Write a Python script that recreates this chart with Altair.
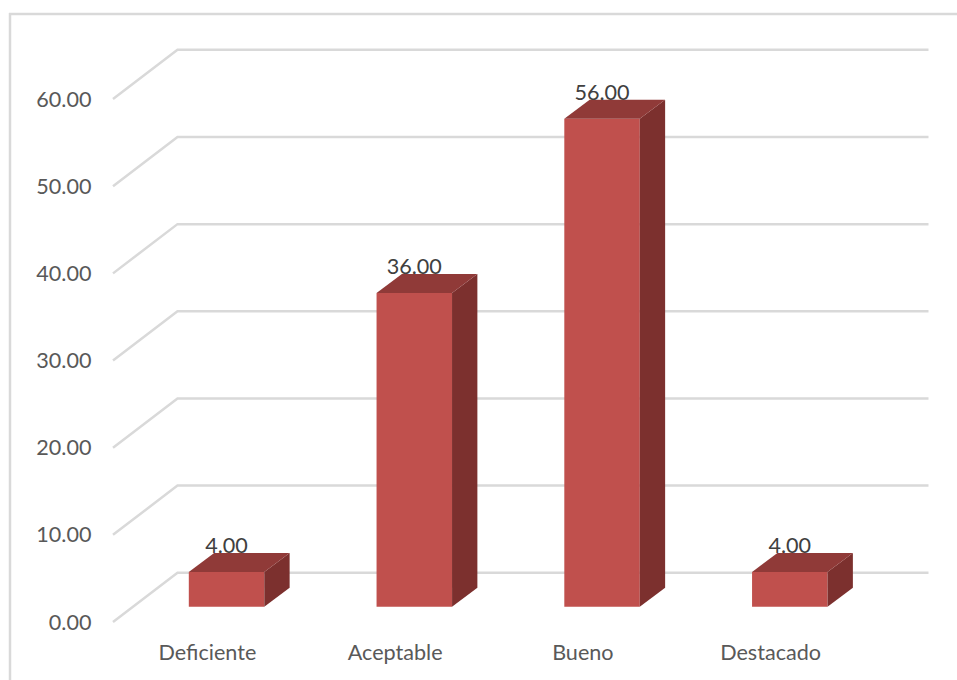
import json
import altair as alt
import pandas as pd

categories = ["Deficiente", "Aceptable", "Bueno", "Destacado"]
values = [4.0, 36.0, 56.0, 4.0]
gridline_values = [0, 10, 20, 30, 40, 50, 60]

FONT = "Lato"
FONT_SIZE = 21.6
FRONT_COLOR = "#c0504d"
TOP_COLOR = "#903a38"
SIDE_COLOR = "#7c302e"
GRID_COLOR = "#d9d9d9"

# Oblique projection: depth shifts a point right (category units) and up (value units).
WALL_DX = 0.3435
WALL_DY = 5.65
BAR_INSET = 0.305
BAR_WIDTH = 0.402
BAR_DX = 0.135
BAR_DY = 2.18

x_scale = alt.Scale(domain=[0, 844 / 187.75], nice=False, zero=False)
y_scale = alt.Scale(domain=[-14 / 8.72, 622.3 / 8.72], nice=False, zero=False)

grid_rows = []
for v in gridline_values:
    grid_rows += [
        {"line": v, "x": 0, "y": v},
        {"line": v, "x": WALL_DX, "y": v + WALL_DY},
        {"line": v, "x": len(categories) + WALL_DX, "y": v + WALL_DY},
    ]

front_rows, side_rows, top_rows, label_rows = [], [], [], []
for i, (name, v) in enumerate(zip(categories, values)):
    center = i + 0.5 + BAR_INSET * WALL_DX
    base = 0.31 * WALL_DY
    left, right = center - BAR_WIDTH / 2, center + BAR_WIDTH / 2
    top = base + v
    front_rows.append({"bar": name, "x": left, "x2": right, "y": top, "y2": base})
    side_rows += [
        {"bar": name, "x": right, "y": top, "y2": base},
        {"bar": name, "x": right + BAR_DX, "y": top + BAR_DY, "y2": base + BAR_DY},
    ]
    top_rows += [
        {"bar": name, "x": left, "y": top, "y2": top},
        {"bar": name, "x": left + BAR_DX, "y": top + BAR_DY, "y2": top},
        {"bar": name, "x": right, "y": top + BAR_DY, "y2": top},
        {"bar": name, "x": right + BAR_DX, "y": top + BAR_DY, "y2": top + BAR_DY},
    ]
    label_rows.append({"x": center, "y": top, "label": f"{v:.2f}"})

x_axis = alt.Axis(
    values=[i + 0.5 for i in range(len(categories))],
    labelExpr=f"{json.dumps(categories)}[floor(datum.value)]",
    title=None, domain=False, ticks=False, grid=False,
    labelFont=FONT, labelFontSize=FONT_SIZE, labelColor="#595959",
    labelPadding=6, labelOverlap=False, labelFlush=False, labelBound=False,
)
y_axis = alt.Axis(
    values=gridline_values, format=".2f",
    title=None, domain=False, ticks=False, grid=False,
    labelFont=FONT, labelFontSize=FONT_SIZE, labelColor="#595959",
    labelPadding=22, labelOffset=1, labelOverlap=False, labelFlush=False, labelBound=False,
)

grid = alt.Chart(pd.DataFrame(grid_rows)).mark_line(
    color=GRID_COLOR, strokeWidth=2.5
).encode(
    x=alt.X("x:Q", scale=x_scale, axis=x_axis),
    y=alt.Y("y:Q", scale=y_scale, axis=y_axis),
    detail="line:N",
    order=alt.Order("x:Q"),
)

front = alt.Chart(pd.DataFrame(front_rows)).mark_rect(color=FRONT_COLOR).encode(
    x=alt.X("x:Q", scale=x_scale), x2="x2:Q",
    y=alt.Y("y:Q", scale=y_scale), y2="y2:Q",
)

side = alt.Chart(pd.DataFrame(side_rows)).mark_area(color=SIDE_COLOR).encode(
    x=alt.X("x:Q", scale=x_scale),
    y=alt.Y("y:Q", scale=y_scale), y2="y2:Q",
    detail="bar:N",
)

top_face = alt.Chart(pd.DataFrame(top_rows)).mark_area(color=TOP_COLOR).encode(
    x=alt.X("x:Q", scale=x_scale),
    y=alt.Y("y:Q", scale=y_scale), y2="y2:Q",
    detail="bar:N",
)

labels = alt.Chart(pd.DataFrame(label_rows)).mark_text(
    font=FONT, fontSize=FONT_SIZE, color="#404040", dy=-25, align="center", baseline="middle"
).encode(
    x=alt.X("x:Q", scale=x_scale),
    y=alt.Y("y:Q", scale=y_scale),
    text="label:N",
)

# Chart-area outline, visible along the top and left edges only.
border_style = dict(color=GRID_COLOR, strokeWidth=2.5)
border_top = alt.Chart(pd.DataFrame({"a": [0]})).mark_rule(**border_style).encode(
    x=alt.value(-104), x2=alt.value(844), y=alt.value(14)
)
border_left = alt.Chart(pd.DataFrame({"a": [0]})).mark_rule(**border_style).encode(
    x=alt.value(-103), y=alt.value(13), y2=alt.value(680)
)

chart = (
    alt.layer(border_top, border_left, grid, front, side, top_face, labels)
    .properties(
        width=844, height=636,
        padding={"left": 113, "top": 0, "right": 0, "bottom": 44},
        autosize=alt.AutoSizeParams(type="none"),
        background="white",
    )
    .configure_view(stroke=None)
)

chart.save("out.html", embed_options={"renderer": "svg", "actions": False})
